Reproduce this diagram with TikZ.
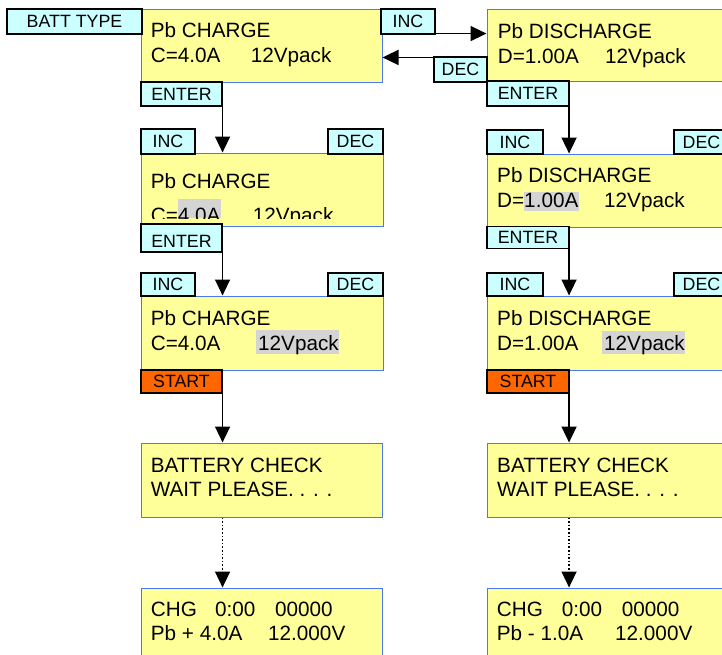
\documentclass[tikz,border=0pt]{standalone}
\usepackage{fontspec}
\setmainfont{Liberation Sans}
\usetikzlibrary{arrows.meta}
\definecolor{scryellow}{HTML}{FFFF99}
\definecolor{scrblue}{HTML}{4A78F0}
\definecolor{keycyan}{HTML}{CCFFFF}
\definecolor{keyorange}{HTML}{FF6600}
\definecolor{hilite}{HTML}{D4D4D4}
\tikzset{
  screen/.style={draw=scrblue, fill=scryellow, line width=1pt, inner sep=0pt},
  keybox/.style={draw=black, fill=keycyan, line width=1.1pt, inner sep=0pt,
     font=\fontsize{17.8}{20}\selectfont, text height=12.7pt, text depth=0pt},
  startkey/.style={keybox, fill=keyorange},
  lcd/.style={inner sep=0pt, anchor=base west, font=\fontsize{20.7}{24}\selectfont},
  arr/.style={line width=1.6pt, -{Triangle[length=16pt,width=15pt]}},
  hl/.style={fill=hilite, draw=none},
}
\begin{document}
\begin{tikzpicture}[x=1pt,y=-1pt]
\clip (0,0) rectangle (722,654);
\fill[white] (0,0) rectangle (722,654);
% ---------- screens ----------
\node[screen, minimum width=241pt, minimum height=73pt] (chg1) at (261.5,45.5) {};
\node[screen, minimum width=273pt, minimum height=72pt] (dis1) at (623.5,45) {};
\node[screen, minimum width=242pt, minimum height=73pt] (chg2) at (262,189.5) {};
\node[screen, minimum width=273pt, minimum height=73pt] (dis2) at (623.5,190.5) {};
\node[screen, minimum width=242pt, minimum height=74pt] (chg3) at (262,333) {};
\node[screen, minimum width=273pt, minimum height=74pt] (dis3) at (623.5,333) {};
\node[screen, minimum width=241pt, minimum height=74pt] (bat1) at (261.5,480) {};
\node[screen, minimum width=273pt, minimum height=74pt] (bat2) at (623.5,480) {};
\node[screen, minimum width=241pt, minimum height=92pt] (res1) at (261.5,634) {};
\node[screen, minimum width=273pt, minimum height=92pt] (res2) at (623.5,634) {};
% ---------- highlights ----------
\begin{scope}
\clip (141.5,153.5) rectangle (382.5,218);
\fill[hl] (178,199) rectangle (221,218);
\node[lcd] (t2c) at (150.7,222.5) {C=4.0A};
\node[lcd] (t2d) at (252.7,222.5) {12Vpack};
\end{scope}
\fill[hl] (524,192) rectangle (579,211);
\fill[hl] (256,330) rectangle (339,354);
\fill[hl] (602,331) rectangle (685,354);
% ---------- screen texts ----------
\node[lcd] (t1a) at (150.7,37.7) {Pb CHARGE};
\node[lcd] (t1b) at (150.7,62.7) {C=4.0A};
\node[lcd] (t1c) at (250.7,62.7) {12Vpack};
\node[lcd] (u1a) at (497.7,38) {Pb DISCHARGE};
\node[lcd] (u1b) at (497.7,63) {D=1.00A};
\node[lcd] (u1c) at (605,63) {12Vpack};
\node[lcd] (t2a) at (150.7,188) {Pb CHARGE};
\node[lcd] (u2a) at (497,182.3) {Pb DISCHARGE};
\node[lcd] (u2b) at (497,207) {D=1.00A};
\node[lcd] (u2c) at (604,207) {12Vpack};
\node[lcd] (t3a) at (150.7,325.7) {Pb CHARGE};
\node[lcd] (t3b) at (150.7,350) {C=4.0A};
\node[lcd] (t3c) at (258,350) {12Vpack};
\node[lcd] (u3a) at (497,325.7) {Pb DISCHARGE};
\node[lcd] (u3b) at (497,350) {D=1.00A};
\node[lcd] (u3c) at (604,350) {12Vpack};
\node[lcd] (t4a) at (150.7,472.7) {BATTERY CHECK};
\node[lcd] (t4b) at (150.7,496.7) {WAIT PLEASE. . . .};
\node[lcd] (u4a) at (497,472.7) {BATTERY CHECK};
\node[lcd] (u4b) at (497,496.7) {WAIT PLEASE. . . .};
\node[lcd] (t5a) at (150.7,616.7) {CHG};
\node[lcd] (t5b) at (215,616.7) {0:00};
\node[lcd] (t5c) at (275,616.7) {00000};
\node[lcd] (t5d) at (150.7,640.7) {Pb + 4.0A};
\node[lcd] (t5e) at (268,640.7) {12.000V};
\node[lcd] (u5a) at (496.7,616.7) {CHG};
\node[lcd] (u5b) at (561.7,616.7) {0:00};
\node[lcd] (u5c) at (621.7,616.7) {00000};
\node[lcd] (u5d) at (496.7,640.7) {Pb - 1.0A};
\node[lcd] (u5e) at (615,640.7) {12.000V};
% ---------- keys ----------
\node[keybox, minimum width=135pt, minimum height=25pt] (batt) at (74.5,21.5) {BATT TYPE};
\node[keybox, minimum width=54pt, minimum height=25pt] (inc1) at (408,21.5) {INC};
\node[keybox, minimum width=53pt, minimum height=25pt] (dec1) at (460.5,69.5) {DEC};
\node[keybox, minimum width=81pt, minimum height=24pt] (ent1L) at (181.5,94) {ENTER};
\node[keybox, minimum width=82pt, minimum height=25pt] (ent1R) at (528,93.5) {ENTER};
\node[keybox, minimum width=54pt, minimum height=25pt] (inc2L) at (168,141.5) {INC};
\node[keybox, minimum width=55pt, minimum height=25pt] (dec2L) at (355.5,141.5) {DEC};
\node[keybox, minimum width=56pt, minimum height=24pt] (inc2R) at (515,142) {INC};
\node[keybox, minimum width=55pt, minimum height=24pt] (dec2R) at (701.5,142) {DEC};
\node[keybox, minimum width=81pt, minimum height=28pt, text height=19pt] (ent2L) at (181.5,238) {ENTER};
\node[keybox, minimum width=82pt, minimum height=22pt] (ent2R) at (528,237.5) {ENTER};
\node[keybox, minimum width=54pt, minimum height=23pt] (inc3L) at (168,284.5) {INC};
\node[keybox, minimum width=55pt, minimum height=23pt] (dec3L) at (355.5,284.5) {DEC};
\node[keybox, minimum width=56pt, minimum height=23pt] (inc3R) at (515,284.5) {INC};
\node[keybox, minimum width=55pt, minimum height=23pt] (dec3R) at (701.5,284.5) {DEC};
\node[startkey, minimum width=81pt, minimum height=23pt] (stL) at (181.5,381.5) {START};
\node[startkey, minimum width=82pt, minimum height=23pt] (stR) at (528,381.5) {START};
% ---------- connectors ----------
\draw[arr] ([yshift=1pt]inc1.south east) -- ([yshift=1pt]inc1.south east -| dis1.west);
\draw[arr] ([yshift=-1pt]dec1.north west) -- ([yshift=-1pt]dec1.north west -| chg1.east);
\draw[arr] (ent1L.south east) -- (ent1L.south east |- chg2.north);
\draw[arr] ([xshift=-0.5pt]ent1R.south east) -- ([xshift=-0.5pt]ent1R.south east |- dis2.north);
\draw[arr] (ent2L.south east) -- (ent2L.south east |- chg3.north);
\draw[arr] ([xshift=-0.5pt]ent2R.south east) -- ([xshift=-0.5pt]ent2R.south east |- dis3.north);
\draw[arr] (stL.south east) -- (stL.south east |- bat1.north);
\draw[arr] ([xshift=-0.5pt]stR.south east) -- ([xshift=-0.5pt]stR.south east |- bat2.north);
\draw[arr, dotted] (bat1.south -| stL.east) -- (res1.north -| stL.east);
\draw[arr, dotted] ([xshift=-0.5pt]bat2.south -| stR.east) -- ([xshift=-0.5pt]res2.north -| stR.east);
\end{tikzpicture}
\end{document}
